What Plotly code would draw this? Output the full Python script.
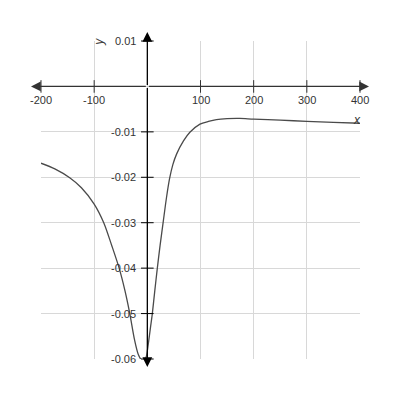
import plotly.graph_objects as go

# ---- data ----
curve_x = [-200, -174, -146, -124, -100, -82, -67, -53, -42, -33, -24, -17, -11, -6,
           -2, 2, 6, 9.4, 14, 18.8, 24, 30, 36, 42, 48, 55, 68, 80, 99, 115, 130, 150, 174, 200,
           250, 300, 350, 400]
curve_y = [-0.0169, -0.01815, -0.0201, -0.0223, -0.0259, -0.0300, -0.0350, -0.0400, -0.0450,
           -0.0500, -0.0558, -0.0590, -0.0602, -0.0604,
           -0.0595, -0.0565, -0.0530, -0.0500, -0.0450, -0.0400, -0.0350, -0.0297, -0.0245, -0.0202,
           -0.0172, -0.0149, -0.0120, -0.0101, -0.0083, -0.0077, -0.0073, -0.0071, -0.00705, -0.0072,
           -0.0074, -0.0077, -0.0079, -0.0081]

x_ticks = [-200, -100, 100, 200, 300, 400]
x_tick_labels = ["-200", "-100", "100", "200", "300", "400"]
y_ticks = [0.01, -0.01, -0.02, -0.03, -0.04, -0.05, -0.06]
y_tick_labels = ["0.01", "-0.01", "-0.02", "-0.03", "-0.04", "-0.05", "-0.06"]

x_range = [-200, 400]
y_range = [-0.06, 0.01]

FONT = "Liberation Sans, Arial, sans-serif"
ML, MR, MT, MB = 33, 40, 33, 41
PW, PH = 319, 318
W = ML + PW + MR
H = MT + PH + MB


def fx(v):
    return (v - x_range[0]) / (x_range[1] - x_range[0])


def fy(v):
    return (v - y_range[0]) / (y_range[1] - y_range[0])


fig = go.Figure()

fig.add_trace(go.Scatter(x=curve_x, y=curve_y, mode="lines",
                         line=dict(color="#4a4a4a", width=1.3, shape="spline", smoothing=0.8),
                         hoverinfo="skip", showlegend=False))

# tick marks on the axes
fig.add_trace(go.Scatter(x=x_ticks, y=[0] * len(x_ticks), mode="markers",
                         marker=dict(symbol="line-ns", size=9, line=dict(color="#333333", width=1)),
                         cliponaxis=False, hoverinfo="skip", showlegend=False))
fig.add_trace(go.Scatter(x=[0] * len(y_ticks), y=y_ticks, mode="markers",
                         marker=dict(symbol="line-ew", size=9, line=dict(color="#000000", width=1)),
                         cliponaxis=False, hoverinfo="skip", showlegend=False))

ann = []
ox = fx(0)
oy = fy(0)
opx = ox * PW
opy = (1 - oy) * PH
# x-axis arrows
for tip_px in (-10, PW + 9):
    ann.append(dict(xref="paper", yref="paper", x=tip_px / PW, y=oy, ax=opx - tip_px, ay=0,
                    axref="pixel", ayref="pixel", showarrow=True, arrowhead=2, arrowsize=1.5,
                    arrowwidth=1.3, arrowcolor="#333333", text=""))
# y-axis arrows
for tip_px in (-9, PH + 8):
    ann.append(dict(xref="paper", yref="paper", x=ox, y=1 - tip_px / PH, ax=0, ay=opy - tip_px,
                    axref="pixel", ayref="pixel", showarrow=True, arrowhead=2, arrowsize=1.5,
                    arrowwidth=1.3, arrowcolor="#000000", text=""))

for t, lab in zip(x_ticks, x_tick_labels):
    ann.append(dict(xref="paper", yref="paper", x=fx(t), y=oy, yshift=-14, text=lab,
                    showarrow=False, xanchor="center", yanchor="middle",
                    font=dict(family=FONT, size=11, color="#333333")))
for t, lab in zip(y_ticks, y_tick_labels):
    ann.append(dict(xref="paper", yref="paper", x=ox, y=fy(t), xshift=-9, text=lab,
                    showarrow=False, xanchor="right", yanchor="middle",
                    font=dict(family=FONT, size=11, color="#333333")))

ann.append(dict(xref="paper", yref="paper", x=0.99, y=oy, yshift=-34, text="<i>x</i>",
                showarrow=False, xanchor="center", yanchor="middle",
                font=dict(family=FONT, size=12, color="#333333")))
ann.append(dict(xref="paper", yref="paper", x=0.182, y=0.998, text="<i>y</i>", textangle=-90,
                showarrow=False, xanchor="center", yanchor="middle",
                font=dict(family=FONT, size=12, color="#333333")))

fig.update_layout(
    width=W, height=H,
    margin=dict(l=ML, r=MR, t=MT, b=MB),
    paper_bgcolor="white", plot_bgcolor="white",
    showlegend=False,
    annotations=ann,
    xaxis=dict(range=x_range, tick0=-200, dtick=100, showgrid=True, gridcolor="#d8d8d8",
               gridwidth=1, zeroline=False, showticklabels=False, ticks="", showline=False,
               fixedrange=True),
    yaxis=dict(range=y_range, tick0=0, dtick=0.01, showgrid=True, gridcolor="#d8d8d8",
               gridwidth=1, zeroline=False, showticklabels=False, ticks="", showline=False,
               fixedrange=True),
)

fig.write_html("out.html", config={"displayModeBar": False})
